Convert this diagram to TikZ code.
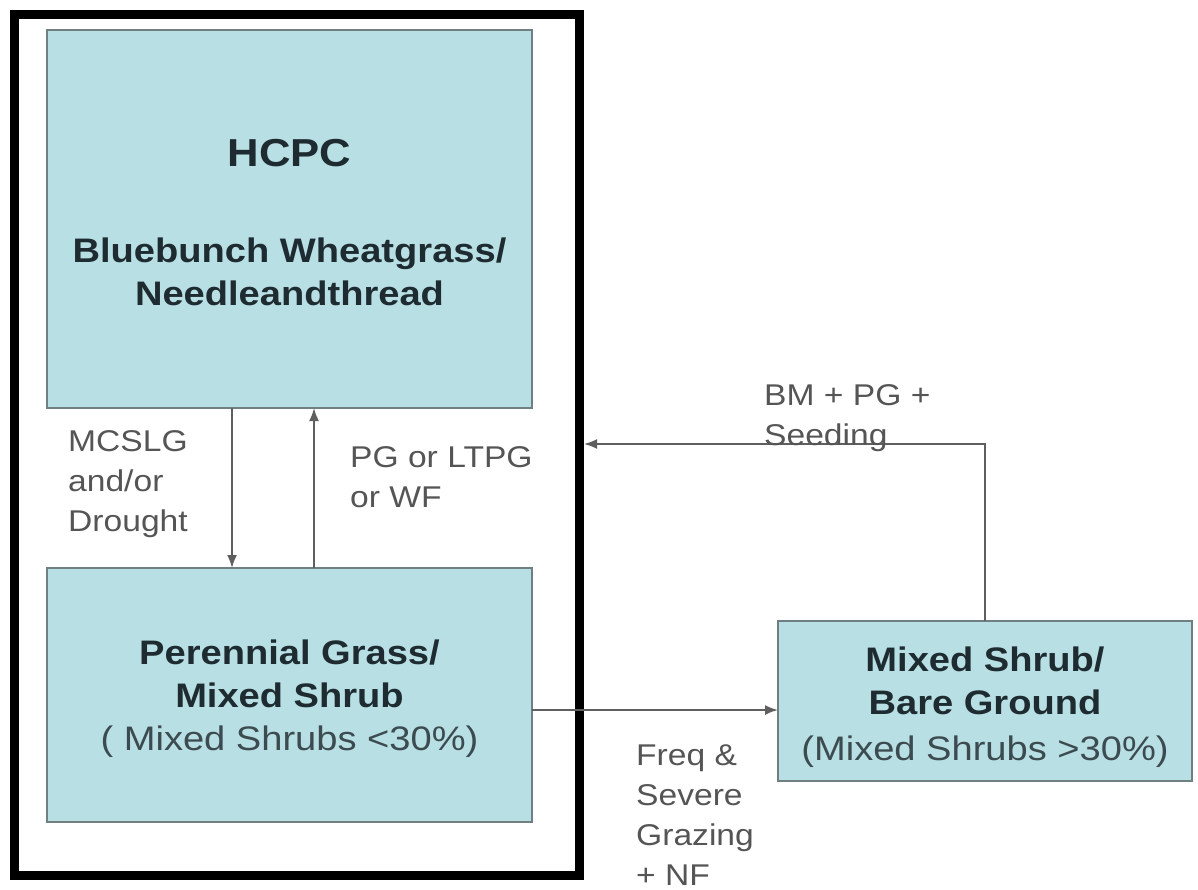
\documentclass[tikz,border=0pt]{standalone}
\usepackage{fontspec}
\setmainfont{Liberation Sans}[FakeStretch=1.12]
\usetikzlibrary{arrows.meta}
\definecolor{boxfill}{HTML}{B8DFE4}
\definecolor{boxline}{HTML}{6F7F82}
\definecolor{titletext}{HTML}{1E2C31}
\definecolor{subtext}{HTML}{3C4B50}
\definecolor{labeltext}{HTML}{555555}
\definecolor{arrowline}{HTML}{5F5F5F}
\begin{document}
\begin{tikzpicture}[x=1pt,y=-1pt,
  outerframe/.style={draw=black, line width=9pt, inner sep=0pt},
  statebox/.style={draw=boxline, line width=2pt, fill=boxfill, inner sep=0pt, outer sep=0pt},
  titletxt/.style={font=\bfseries\fontsize{34}{43}\selectfont, text=titletext, align=center, inner sep=0pt},
  subtxt/.style={font=\fontsize{34}{43}\selectfont, text=subtext, inner sep=0pt, anchor=base},
  lbl/.style={font=\fontsize{30}{40}\selectfont, text=labeltext, align=left, inner sep=0pt, anchor=north west},
  arr/.style={draw=arrowline, line width=1.8pt, -{Latex[length=13pt,width=10pt]}}
]
\useasboundingbox (0,0) rectangle (1198,890);
\fill[white] (0,0) rectangle (1198,890);

% outer frame
\node[outerframe, minimum width=565pt, minimum height=860pt] (frame) at (297,445) {};

% HCPC box
\node[statebox, minimum width=485pt, minimum height=378pt] (hcpc) at (289.5,219) {};
\node[titletxt, font=\bfseries\fontsize{39}{43}\selectfont, anchor=base] (hcpctitle) at (289.5,167) {HCPC};
\node[titletxt] (hcpcname) at (289.5,272) {Bluebunch Wheatgrass/\\Needleandthread};

% Perennial grass box
\node[statebox, minimum width=485pt, minimum height=254pt] (pg) at (289.5,695) {};
\node[titletxt] (pgname) at (289.5,674) {Perennial Grass/\\Mixed Shrub};
\node[subtxt] (pgsub) at (289.5,750) {( Mixed Shrubs <30\%)};

% Mixed shrub box
\node[statebox, minimum width=414pt, minimum height=160pt] (ms) at (985,701) {};
\node[titletxt] (msname) at (985,681) {Mixed Shrub/\\Bare Ground};
\node[subtxt] (mssub) at (985,760) {(Mixed Shrubs >30\%)};

% connectors
\coordinate (hy) at (0,710);
\coordinate (ry) at (0,444);
\draw[arr] ([xshift=185pt]hcpc.south west) -- ([xshift=185pt]pg.north west);
\draw[arr] ([xshift=267pt]pg.north west) -- ([xshift=267pt]hcpc.south west);
\draw[arr] (pg.east |- hy) -- (ms.west |- hy);
\draw[arr] (ms.north) -- (ms.north |- ry) -- (frame.east |- ry);

% labels
\node[lbl] (l1) at (68,430) {MCSLG\\and/or\\Drought};
\node[lbl] (l2) at (350,446) {PG or LTPG\\or WF};
\node[lbl] (l3) at (764,384) {BM + PG +\\Seeding};
\node[lbl] (l4) at (636,745) {Freq \&\\Severe\\Grazing\\+ NF};
\end{tikzpicture}
\end{document}
